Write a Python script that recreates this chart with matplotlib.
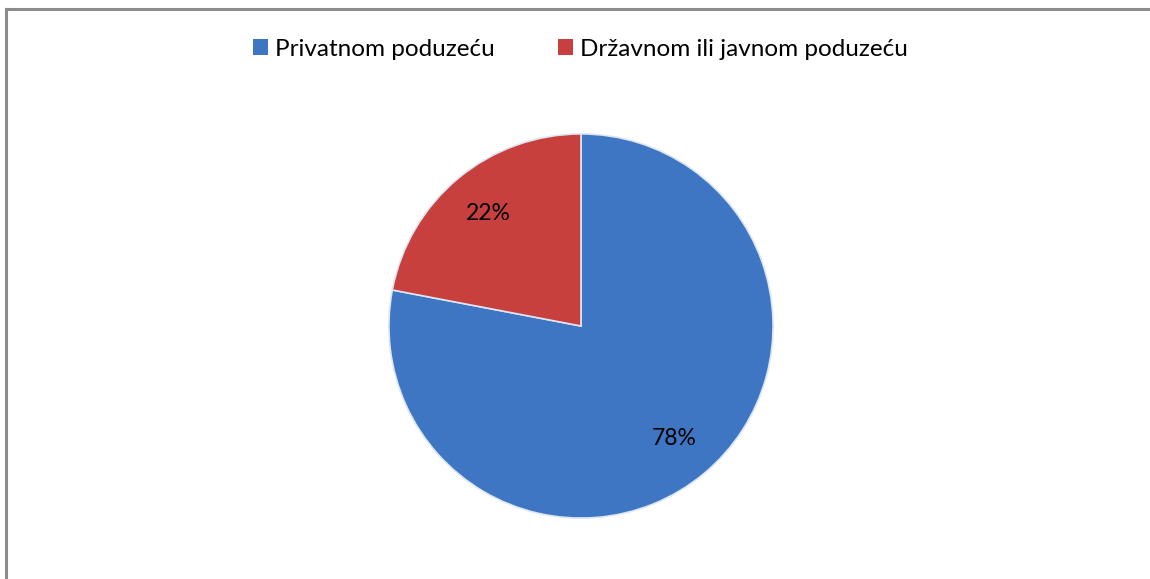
import matplotlib.pyplot as plt
from matplotlib.lines import Line2D

# Data
labels = ['Privatnom poduzeću', 'Državnom ili javnom poduzeću']
values = [78, 22]
colors = ['#3F76C4', '#C7403E']

plt.rcParams['font.family'] = ['Lato', 'DejaVu Sans']

fig = plt.figure(figsize=(11.5, 5.79), dpi=100)

# frame lines like the original chart border
fig.add_artist(Line2D([6 / 1150, 6 / 1150], [0, 1 - 9 / 579], color='#8c8c8c', lw=2.2))
fig.add_artist(Line2D([6 / 1150, 1], [1 - 9 / 579, 1 - 9 / 579], color='#8c8c8c', lw=2.2))

# pie axes: center ~ (581, 326) px, radius ~194 px
cx, cy, r = 581, 326, 194
ax = fig.add_axes([(cx - r) / 1150, (579 - cy - r) / 579, 2 * r / 1150, 2 * r / 579])

wedges, texts, autotexts = ax.pie(
    values, colors=colors, startangle=90, counterclock=False,
    autopct='%1.0f%%', pctdistance=0.76, radius=1,
    wedgeprops=dict(edgecolor='#dde6f2', linewidth=1.2),
    textprops=dict(fontsize=16.5, color='black'))
ax.set_xlim(-1.01, 1.01)
ax.set_ylim(-1.01, 1.01)
ax.set_aspect('equal')

# legend
handles = [plt.Rectangle((0, 0), 1, 1, facecolor=c, edgecolor='none') for c in colors]
fig.legend(handles, labels, loc='center', bbox_to_anchor=(0.505, 1 - 49 / 579),
           ncol=2, frameon=False, fontsize=17.5, handlelength=0.6, handleheight=0.6,
           handletextpad=0.3, columnspacing=2.6)

fig.savefig('out.png', dpi=100)
